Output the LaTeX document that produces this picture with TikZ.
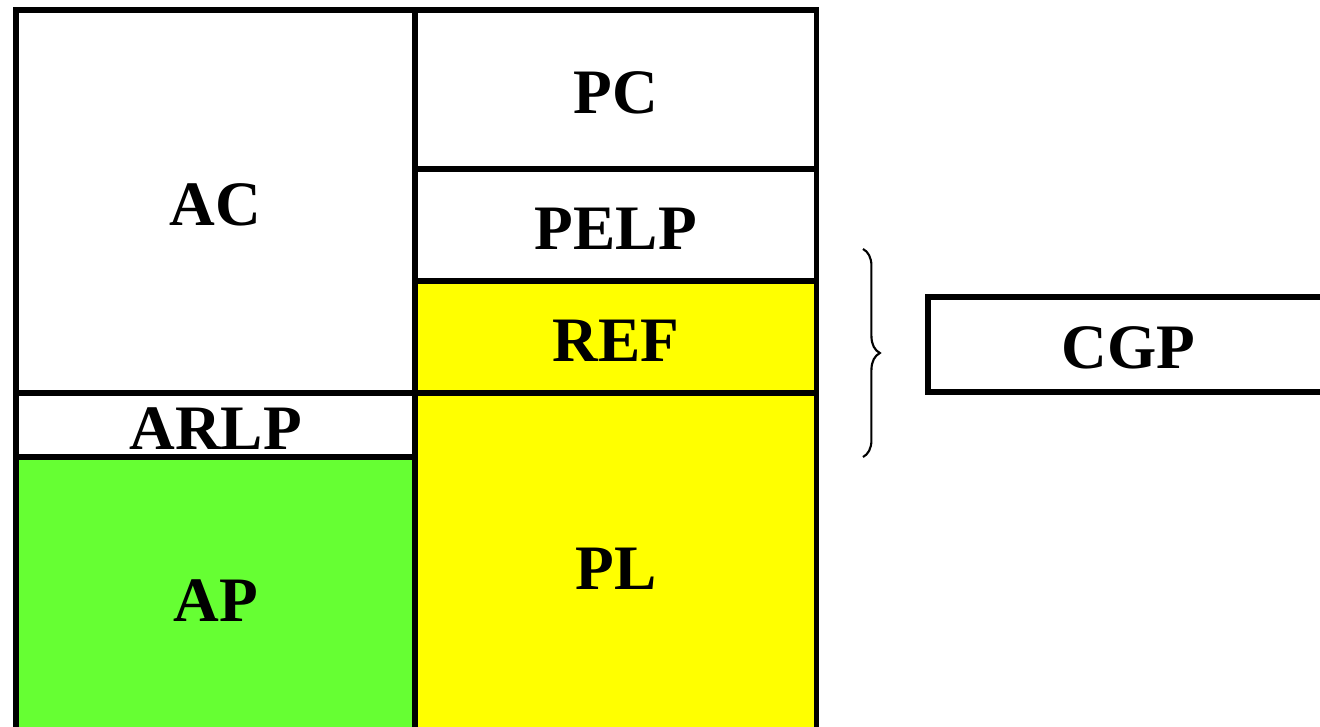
\documentclass[tikz,border=0pt]{standalone}
\usepackage{fontspec}
\setmainfont{Liberation Serif}
\usetikzlibrary{positioning, decorations.pathreplacing}
\definecolor{apgreen}{HTML}{66FF33}
\definecolor{plyellow}{HTML}{FFFF00}

\begin{document}
\begin{tikzpicture}[x=0.01cm, y=-0.01cm,
        % Define styles for the cells
        cell/.style={rectangle, draw, line width=1.6pt, outer sep=0pt, inner sep=0pt, text centered, text height=0.48cm, text depth=0pt, font=\fontsize{18}{20}\selectfont\bfseries},
        leftcell/.style={cell, minimum width=3.99cm},
        rightcell/.style={cell, minimum width=4.01cm},
        bracket/.style={decorate, decoration={brace, amplitude=4.8pt}, line width=0.6pt}
    ]
    \useasboundingbox (0,0) rectangle (1320,727);
    \clip (0,0) rectangle (1320,727);

    % Left column
    \node[leftcell, anchor=north west, minimum height=3.83cm] (ac) at (16,10) {AC};
    \node[leftcell, below=0pt of ac, minimum height=0.64cm] (arlp) {ARLP};
    \node[leftcell, fill=apgreen, below=0pt of arlp, minimum height=2.81cm] (ap) {AP};

    % Right column
    \node[rightcell, anchor=north west, minimum height=1.59cm] (pc) at (ac.north east) {PC};
    \node[rightcell, below=0pt of pc, minimum height=1.12cm] (pelp) {PELP};
    \node[rightcell, fill=plyellow, below=0pt of pelp, minimum height=1.12cm] (ref) {REF};
    \node[rightcell, fill=plyellow, below=0pt of ref, minimum height=3.45cm] (pl) {PL};

    % Grouped part
    \node[cell, anchor=west, minimum width=4cm, minimum height=0.95cm] (cgp) at (928,344.5) {CGP};
    \coordinate (bracetop) at (863,249);
    \coordinate (bracebot) at (863,457);
    \draw[bracket] (bracetop) -- (bracebot);
\end{tikzpicture}
\end{document}
